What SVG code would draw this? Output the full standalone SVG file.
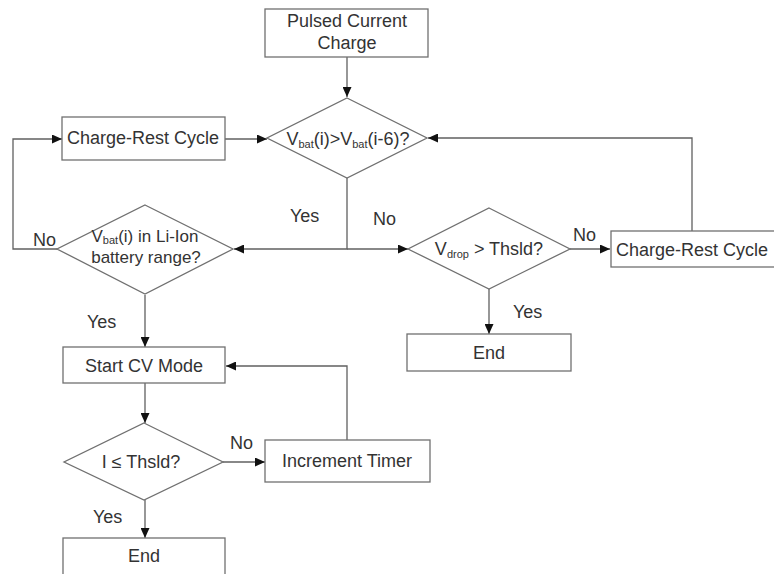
<svg xmlns="http://www.w3.org/2000/svg" width="774" height="574" viewBox="0 0 774 574">
<defs>
<style>
.box{fill:#fff;stroke:#707070;stroke-width:1.3}
.ln{fill:none;stroke:#606060;stroke-width:1.3}
.t{font-family:"Liberation Sans",Arial,sans-serif;font-size:18px;fill:#333;text-anchor:middle}
.l{font-family:"Liberation Sans",Arial,sans-serif;font-size:18px;fill:#333}
.sub{font-size:11px;fill:#333}
</style>
<marker id="ah" viewBox="0 0 10 10" refX="10" refY="5" markerWidth="10" markerHeight="9" markerUnits="userSpaceOnUse" orient="auto" preserveAspectRatio="none">
<path d="M0,0 L10,5 L0,10 Z" fill="#111"/>
</marker>
</defs>
<rect width="774" height="574" fill="#fff"/>

<g id="connectors">
<path class="ln" d="M347,57 V97" marker-end="url(#ah)"/>
<path class="ln" d="M225,139 H267" marker-end="url(#ah)"/>
<path class="ln" d="M347,178 V249 H234" marker-end="url(#ah)"/>
<path class="ln" d="M347,249 H408" marker-end="url(#ah)"/>
<path class="ln" d="M57,249 H13 V139 H62" marker-end="url(#ah)"/>
<path class="ln" d="M570,249 H610" marker-end="url(#ah)"/>
<path class="ln" d="M692,231 V138 H428" marker-end="url(#ah)"/>
<path class="ln" d="M489,289 V334" marker-end="url(#ah)"/>
<path class="ln" d="M145,295 V347" marker-end="url(#ah)"/>
<path class="ln" d="M145,383 V423" marker-end="url(#ah)"/>
<path class="ln" d="M223,462 H265" marker-end="url(#ah)"/>
<path class="ln" d="M347,440 V366 H226" marker-end="url(#ah)"/>
<path class="ln" d="M145,500 V538" marker-end="url(#ah)"/>
</g>

<g id="labels">
<text class="l" x="33" y="246">No</text>
<text class="l" x="290" y="222">Yes</text>
<text class="l" x="373" y="225">No</text>
<text class="l" x="573" y="241">No</text>
<text class="l" x="513" y="318">Yes</text>
<text class="l" x="87" y="328">Yes</text>
<text class="l" x="230" y="449">No</text>
<text class="l" x="93" y="523">Yes</text>
</g>

<g id="pulsed">
<rect class="box" x="265" y="9" width="163" height="48"/>
<text class="t" x="347" y="27">Pulsed Current</text>
<text class="t" x="347" y="49">Charge</text>
</g>

<g id="crc-left">
<rect class="box" x="62" y="117" width="163" height="43"/>
<text class="t" x="143" y="144">Charge-Rest Cycle</text>
</g>

<g id="d-vbat">
<polygon class="box" points="347,98 427,138 347,178 267,138"/>
<text class="t" x="348" y="145">V<tspan class="sub" dy="3">bat</tspan><tspan dy="-3">(i)&gt;V</tspan><tspan class="sub" dy="3">bat</tspan><tspan dy="-3">(i-6)?</tspan></text>
</g>

<g id="d-range">
<polygon class="box" points="145,205 233,249 145,294 57,249"/>
<text class="t" x="145" y="242" style="font-size:17px">V<tspan class="sub" dy="2">bat</tspan><tspan dy="-2">(i) in Li-Ion</tspan></text>
<text class="t" x="146" y="263" style="font-size:17px">battery range?</text>
</g>

<g id="d-vdrop">
<polygon class="box" points="489,208 570,249 489,289 408,249"/>
<text class="t" x="489" y="255">V<tspan class="sub" dy="3">drop</tspan><tspan dy="-3"> &gt; Thsld?</tspan></text>
</g>

<g id="crc-right">
<rect class="box" x="611" y="231" width="170" height="36"/>
<text class="t" x="692" y="256">Charge-Rest Cycle</text>
</g>

<g id="end-right">
<rect class="box" x="407" y="334" width="164" height="37"/>
<text class="t" x="489" y="359">End</text>
</g>

<g id="start-cv">
<rect class="box" x="63" y="347" width="162" height="36"/>
<text class="t" x="144" y="372">Start CV Mode</text>
</g>

<g id="d-ithsld">
<polygon class="box" points="144,423 223,462 144,500 64,462"/>
<text class="t" x="141" y="468">I ≤ Thsld?</text>
</g>

<g id="timer">
<rect class="box" x="265" y="440" width="165" height="42"/>
<text class="t" x="347" y="467">Increment Timer</text>
</g>

<g id="end-left">
<rect class="box" x="63" y="538" width="162" height="45"/>
<text class="t" x="144" y="562">End</text>
</g>
</svg>
